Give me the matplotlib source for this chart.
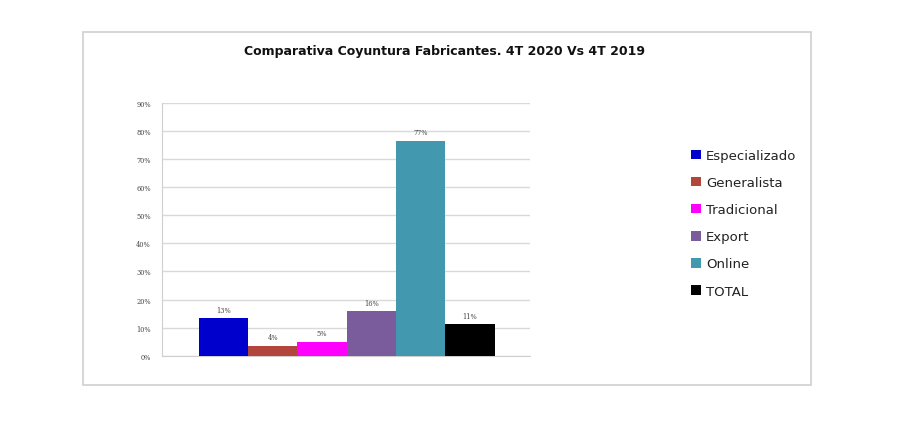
import matplotlib.pyplot as plt
from matplotlib.patches import Rectangle, Patch

# datos
categorias = ["Especializado", "Generalista", "Tradicional", "Export", "Online", "TOTAL"]
valores = [13.3, 3.6, 5.0, 16.0, 76.6, 11.2]
etiquetas = ["13%", "4%", "5%", "16%", "77%", "11%"]
colores = ["#0000CC", "#B3463C", "#FF00FF", "#7A5B9C", "#4198AF", "#000000"]
ticks_y = [0, 10, 20, 30, 40, 50, 60, 70, 80, 90]

W, H = 900, 427
fig = plt.figure(figsize=(9, 4.27), dpi=100)
fig.patch.set_facecolor("white")

# marco exterior del gráfico
fig.patches.append(Rectangle((83 / W, 1 - 386 / H), (811 - 83) / W, (386 - 33) / H,
                             transform=fig.transFigure, fill=False,
                             edgecolor="#D0D0D0", linewidth=1.2))

fig.text(445 / W, 1 - 51 / H, "Comparativa Coyuntura Fabricantes. 4T 2020 Vs 4T 2019",
         ha="center", va="center", fontsize=9, fontweight="bold", color="#111111")

ax = fig.add_axes([162 / W, 1 - 356.7 / H, (530 - 162) / W, (356.7 - 104) / H])
x = range(len(categorias))
barras = ax.bar(x, valores, width=1.0, color=colores, zorder=3)

for xi, v, lab in zip(x, valores, etiquetas):
    ax.text(xi, v + 1.5, lab, ha="center", va="bottom", fontsize=4.8,
            family="DejaVu Serif", color="#444444")

ax.set_xlim(-1.25, 6.22)
ax.set_ylim(0, 90)
ax.set_yticks(ticks_y)
ax.set_yticklabels([f"{t}%" for t in ticks_y], fontsize=4.8, family="DejaVu Serif", color="#444444")
ax.set_xticks([])
ax.tick_params(axis="y", length=0, pad=8)
ax.grid(axis="y", color="#D9D9D9", linewidth=1.0, zorder=0)
for lado in ["top", "right"]:
    ax.spines[lado].set_visible(False)
ax.spines["left"].set_color("#CFCFCF")
ax.spines["bottom"].set_color("#CFCFCF")

handles = [Patch(facecolor=c, edgecolor="none") for c in colores]
fig.legend(handles, categorias, loc="upper left", bbox_to_anchor=(691 / W, 1 - 150 / H),
           frameon=False, fontsize=9.5, handlelength=0.75, handleheight=0.75,
           handletextpad=0.4, labelspacing=1.07, borderaxespad=0, borderpad=0,
           labelcolor="#222222")

plt.savefig("out.png", dpi=100)
plt.close()
